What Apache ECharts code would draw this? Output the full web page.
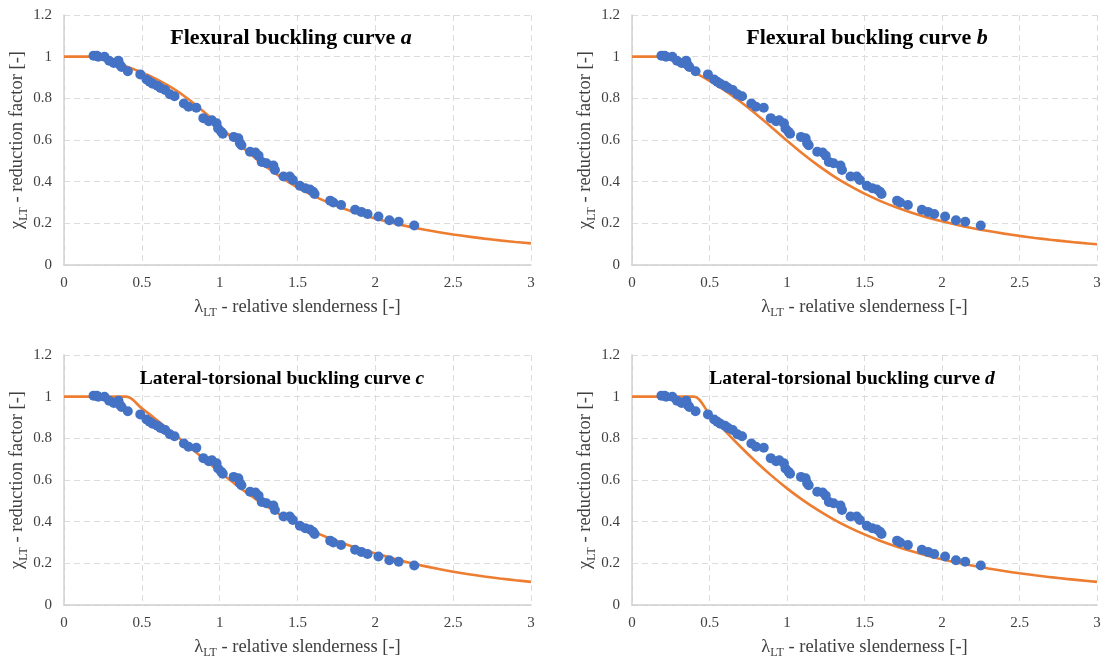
<!DOCTYPE html>
<html>
<head>
<meta charset="utf-8">
<script src="https://cdn.jsdelivr.net/npm/echarts@6/dist/echarts.min.js"></script>
<style>
  html, body { margin: 0; padding: 0; background: #ffffff; }
  #chart { width: 1106px; height: 663px; }
</style>
</head>
<body>
<div id="chart"></div>
<script>
// Test results: relative slenderness and reduction factor
const testLambda = [0.19,0.21,0.22,0.26,0.29,0.32,0.35,0.36,0.37,0.41,0.49,0.53,0.55,0.57,0.60,0.62,0.65,0.68,0.71,0.77,0.80,0.85,0.895,0.93,0.95,0.98,0.99,1.01,1.02,1.09,1.12,1.13,1.14,1.195,1.23,1.25,1.27,1.30,1.345,1.355,1.41,1.45,1.47,1.515,1.55,1.58,1.60,1.61,1.71,1.73,1.78,1.87,1.91,1.95,2.02,2.09,2.15,2.25];
const testChi    = [1.005,1.005,1.0,1.0,0.98,0.97,0.98,0.96,0.95,0.93,0.915,0.89,0.88,0.87,0.86,0.85,0.84,0.82,0.81,0.775,0.76,0.755,0.705,0.69,0.695,0.68,0.655,0.64,0.63,0.615,0.608,0.585,0.575,0.544,0.54,0.525,0.495,0.488,0.478,0.456,0.425,0.425,0.408,0.38,0.368,0.362,0.352,0.341,0.309,0.30,0.288,0.265,0.255,0.245,0.233,0.215,0.208,0.19];

// Slenderness stations of the design curves
const curveLambda = [0,0.1,0.2,0.3,0.4,0.5,0.6,0.7,0.8,0.9,1.0,1.1,1.2,1.3,1.4,1.5,1.6,1.7,1.8,1.9,2.0,2.1,2.2,2.3,2.4,2.5,2.6,2.7,2.8,2.9,3.0];
const curveA = [1,1,1,0.9775,0.9528,0.9243,0.8900,0.8477,0.7957,0.7339,0.6656,0.5960,0.5300,0.4703,0.4179,0.3724,0.3332,0.2994,0.2702,0.2449,0.2229,0.2036,0.1867,0.1717,0.1585,0.1467,0.1362,0.1267,0.1182,0.1105,0.1036];
const curveB = [1,1,1,0.9641,0.9261,0.8842,0.8371,0.7837,0.7245,0.6612,0.5970,0.5352,0.4781,0.4269,0.3817,0.3422,0.3079,0.2781,0.2521,0.2294,0.2095,0.1920,0.1765,0.1628,0.1506,0.1397,0.1299,0.1211,0.1132,0.1060,0.0994];
const curveC = [1,1,1,1,1,0.9438,0.8859,0.8257,0.7637,0.7009,0.6391,0.5800,0.5249,0.4746,0.4294,0.3891,0.3534,0.3219,0.2940,0.2693,0.2474,0.2268,0.2066,0.1890,0.1736,0.1600,0.1479,0.1372,0.1276,0.1189,0.1111];
const curveD = [1,1,1,1,1,0.9160,0.8359,0.7597,0.6878,0.6210,0.5599,0.5047,0.4553,0.4115,0.3729,0.3388,0.3087,0.2822,0.2587,0.2379,0.2194,0.2029,0.1881,0.1749,0.1630,0.1522,0.1425,0.1336,0.1255,0.1182,0.1111];

const panelTitles = [
  ['Flexural buckling curve ', 'a'],
  ['Flexural buckling curve ', 'b'],
  ['Lateral-torsional buckling curve ', 'c'],
  ['Lateral-torsional buckling curve ', 'd']
];
const xTicks = ['0','0.5','1','1.5','2','2.5','3'];
const yTicks = ['0','0.2','0.4','0.6','0.8','1','1.2'];

const curves = [curveA, curveB, curveC, curveD];
const FONT = '"Liberation Serif", "Times New Roman", serif';
const GRIDS = [
  { left: 64,  top: 15,  width: 467, height: 250 },
  { left: 632, top: 15,  width: 465, height: 250 },
  { left: 64,  top: 355, width: 467, height: 250 },
  { left: 632, top: 355, width: 465, height: 250 }
];
// title centre x, top y and font size per panel
const TITLE_POS = [
  { x: 291, y: 27, size: 22 },
  { x: 867, y: 27, size: 22 },
  { x: 282, y: 369, size: 19.5 },
  { x: 852, y: 369, size: 19.5 }
];

const points = testLambda.map((x, i) => [x, testChi[i]]);
const nameRich = {
  g: { fontFamily: FONT, fontSize: 18.5, color: '#404040', lineHeight: 24 },
  s: { fontFamily: FONT, fontSize: 12, color: '#404040', lineHeight: 24, verticalAlign: 'bottom', padding: [7, 0, 0, 0] },
  t: { fontFamily: FONT, fontSize: 18.5, color: '#404040', lineHeight: 24 }
};

const option = {
  animation: false,
  backgroundColor: '#ffffff',
  title: TITLE_POS.map((p, i) => ({
    text: '{b|' + panelTitles[i][0] + '}{i|' + panelTitles[i][1] + '}',
    left: p.x,
    top: p.y,
    textAlign: 'center',
    padding: 0,
    textStyle: {
      rich: {
        b: { fontFamily: FONT, fontSize: p.size, fontWeight: 'bold', color: '#000000' },
        i: { fontFamily: FONT, fontSize: p.size, fontWeight: 'bold', fontStyle: 'italic', color: '#000000' }
      }
    }
  })),
  grid: GRIDS,
  xAxis: GRIDS.map((g, i) => ({
    type: 'value', gridIndex: i, min: 0, max: 3, interval: 0.5,
    name: '{g|λ}{s|LT}{t| - relative slenderness [-]}',
    nameLocation: 'middle', nameGap: 30,
    nameTextStyle: { rich: nameRich },
    axisLine: { show: true, lineStyle: { color: '#d0d0d0', width: 1.5 } },
    axisTick: { show: false },
    axisLabel: { fontFamily: FONT, fontSize: 15, color: '#404040', margin: 11,
      formatter: v => xTicks[Math.round(v / 0.5)] },
    splitLine: { show: true, lineStyle: { color: '#dcdcdc', type: [6, 4], width: 1 } }
  })),
  yAxis: GRIDS.map((g, i) => ({
    type: 'value', gridIndex: i, min: 0, max: 1.2, interval: 0.2,
    name: '{g|χ}{s|LT}{t| - reduction factor [-]}',
    nameLocation: 'middle', nameGap: 29, nameRotate: 90,
    nameTextStyle: { rich: nameRich },
    axisLine: { show: true, lineStyle: { color: '#d0d0d0', width: 1.5 } },
    axisTick: { show: false },
    axisLabel: { fontFamily: FONT, fontSize: 15, color: '#404040', margin: 12,
      formatter: v => yTicks[Math.round(v / 0.2)] },
    splitLine: { show: true, lineStyle: { color: '#dcdcdc', type: [6, 4], width: 1 } }
  })),
  series: [].concat(
    curves.map((c, i) => ({
      type: 'line', xAxisIndex: i, yAxisIndex: i,
      data: curveLambda.map((x, k) => [x, c[k]]),
      smooth: 0.35, showSymbol: false, z: 2,
      lineStyle: { color: '#ED7D31', width: 2.6 }
    })),
    GRIDS.map((g, i) => ({
      type: 'scatter', xAxisIndex: i, yAxisIndex: i,
      data: points, symbolSize: 10, z: 3,
      itemStyle: { color: '#4472C4', opacity: 1 }
    }))
  )
};

echarts.init(document.getElementById('chart'), null, { renderer: 'canvas' }).setOption(option);
</script>
</body>
</html>
